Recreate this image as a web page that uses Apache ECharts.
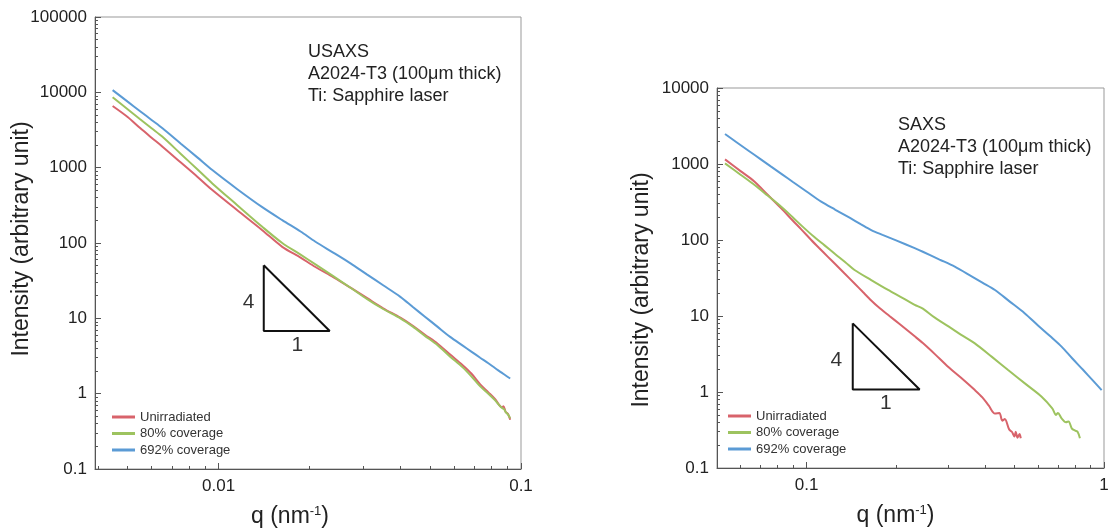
<!DOCTYPE html>
<html>
<head>
<meta charset="utf-8">
<script src="https://cdn.jsdelivr.net/npm/echarts@6/dist/echarts.min.js"></script>
<style>html,body{margin:0;padding:0;background:#fff;}#chart{width:1113px;height:528px;}</style>
</head>
<body>
<div id="chart"></div>
<script>
// ---------- DATA ----------
const seriesNames = ['Unirradiated', '80% coverage', '692% coverage'];
const seriesColors = ['#d8636b', '#9dc35f', '#5b9bd5'];

// USAXS (left) : [q, intensity]
const usaxsUnirradiated = [[0.00446,6580],[0.0050,4700],[0.0055,3350],[0.0060,2500],[0.00652,1900],[0.0075,1170],[0.0085,760],[0.00953,504],[0.0115,274],[0.01394,148],[0.01623,89],[0.01866,64],[0.0209,48],[0.024,35],[0.0273,25.5],[0.031,18.5],[0.035,13.6],[0.0399,10.2],[0.044,7.9],[0.048,6.1],[0.053,4.6],[0.0583,3.3],[0.064,2.4],[0.0685,1.85],[0.0733,1.33],[0.078,1.04],[0.082,0.85],[0.0865,0.66],[0.0875,0.68],[0.089,0.57],[0.0905,0.54],[0.0921,0.45]];
const usaxs80 = [[0.00446,8600],[0.0050,5960],[0.0055,4400],[0.0060,3340],[0.00652,2570],[0.0075,1520],[0.0085,952],[0.00953,618],[0.0115,320],[0.01394,164],[0.01623,100],[0.01866,70],[0.0209,52],[0.024,36],[0.0273,25.5],[0.031,18],[0.035,13.3],[0.0399,10],[0.044,7.7],[0.048,5.9],[0.053,4.4],[0.0583,3.1],[0.064,2.25],[0.0685,1.7],[0.0733,1.25],[0.078,1.0],[0.082,0.82],[0.086,0.66],[0.088,0.62],[0.089,0.57],[0.0905,0.53],[0.0921,0.47]];
const usaxs692 = [[0.00446,10700],[0.0050,7520],[0.0055,5620],[0.0060,4300],[0.00652,3330],[0.0075,2080],[0.0085,1370],[0.00953,929],[0.0115,522],[0.01394,299],[0.01623,201],[0.01866,142],[0.0209,104],[0.024,74],[0.0273,53.6],[0.031,38],[0.035,27.5],[0.0399,19.3],[0.044,14.0],[0.048,10.6],[0.053,7.7],[0.0583,5.67],[0.064,4.37],[0.0685,3.62],[0.0733,3.0],[0.078,2.53],[0.082,2.19],[0.086,1.92],[0.089,1.74],[0.0921,1.59]];

// SAXS (right) : [q, intensity]
const saxsUnirradiated = [[0.0532,1150],[0.060,806],[0.0669,585],[0.074,394],[0.0822,261],[0.090,179],[0.096,138],[0.1037,100],[0.110,79],[0.118,60],[0.126,46.5],[0.134,36.5],[0.145,26.8],[0.155,20.5],[0.165,16],[0.174,13.2],[0.19,10],[0.205,7.9],[0.231,5.4],[0.246,4.4],[0.27,3.15],[0.299,2.15],[0.33,1.55],[0.368,1.06],[0.39,0.85],[0.41,0.66],[0.43,0.52],[0.445,0.53],[0.455,0.42],[0.464,0.44],[0.48,0.32],[0.49,0.30],[0.50,0.26],[0.505,0.30],[0.512,0.25],[0.52,0.28],[0.525,0.246]];
const saxs80 = [[0.0532,1020],[0.060,723],[0.0669,530],[0.074,384],[0.0822,274],[0.090,198],[0.097,150],[0.106,110],[0.115,85],[0.125,65],[0.135,51],[0.145,40.3],[0.165,29.7],[0.188,22],[0.21,17.3],[0.231,14],[0.246,12.5],[0.27,9.5],[0.30,7.3],[0.33,5.7],[0.368,4.37],[0.42,2.9],[0.476,1.95],[0.55,1.24],[0.617,0.867],[0.67,0.61],[0.69,0.50],[0.70,0.53],[0.72,0.45],[0.745,0.40],[0.76,0.41],[0.78,0.33],[0.80,0.31],[0.815,0.30],[0.83,0.246]];
const saxs692 = [[0.0532,2480],[0.058,1950],[0.064,1485],[0.070,1160],[0.076,923],[0.083,725],[0.090,580],[0.100,435],[0.112,319],[0.125,250],[0.140,195],[0.152,162],[0.165,135],[0.18,117],[0.20,99],[0.231,78],[0.246,70],[0.28,55.3],[0.315,44.6],[0.36,33],[0.39,27.5],[0.43,22],[0.48,15.7],[0.542,10.8],[0.60,7.5],[0.66,5.4],[0.72,3.95],[0.78,2.8],[0.85,1.96],[0.92,1.4],[0.982,1.06]];

// slope triangles (q, intensity) and their labels
const usaxsTriangle = [[0.0141,50.6],[0.0141,6.8],[0.0233,6.8],[0.0141,50.6]];
const usaxsTriangleLabels = [['4',0.01256,16.6],['1',0.0182,4.4]];
const saxsTriangle = [[0.143,8.0],[0.143,1.08],[0.24,1.08],[0.143,8.0]];
const saxsTriangleLabels = [['4',0.126,2.64],['1',0.1846,0.716]];

// axis ranges and ticks
const usaxsXRange = [0.0039, 0.1];
const usaxsYRange = [0.1, 100000];
const saxsXRange = [0.05, 1];
const saxsYRange = [0.1, 10000];
const usaxsXMajor = [0.01, 0.1];
const usaxsXMinor = [0.004,0.005,0.006,0.007,0.008,0.009,0.02,0.03,0.04,0.05,0.06,0.07,0.08,0.09];
const usaxsYMajor = [0.1, 1, 10, 100, 1000, 10000, 100000];
const saxsXMajor = [0.1, 1];
const saxsXMinor = [0.05,0.06,0.07,0.08,0.09,0.2,0.3,0.4,0.5,0.6,0.7,0.8,0.9];
const saxsYMajor = [0.1, 1, 10, 100, 1000, 10000];
const minorDecade = [2,3,4,5,6,7,8,9];

const usaxsText = 'USAXS\nA2024-T3 (100μm thick)\nTi: Sapphire laser';
const saxsText = 'SAXS\nA2024-T3 (100μm thick)\nTi: Sapphire laser';
const yAxisTitle = 'Intensity (arbitrary unit)';
const xAxisTitle = 'q (nm{sup|-1})';

// ---------- BUILD ----------
const FONT = '"Liberation Sans", Arial, Helvetica, sans-serif';
function minorFromMajors(majors) {
  const out = [];
  for (let i = 0; i < majors.length - 1; i++) minorDecade.forEach(m => out.push(+(majors[i] * m).toPrecision(6)));
  return out;
}
const fmt = v => String(+v.toPrecision(6));
const axisColor = '#555';

function xAxes(grid, range, majors, minors, nameShift) {
  return [{
    gridIndex: grid, type: 'log', logBase: 10, min: range[0], max: range[1], position: 'bottom',
    axisLine: { lineStyle: { color: axisColor, width: 1 } },
    axisTick: { inside: true, length: 6, customValues: majors, lineStyle: { color: axisColor } },
    axisLabel: { customValues: majors, formatter: fmt, margin: 9, fontSize: 17, color: '#222', fontFamily: FONT },
    splitLine: { show: false }, minorTick: { show: false },
    name: xAxisTitle, nameLocation: 'middle', nameGap: 36, nameMoveOverlap: false,
    nameTextStyle: { fontSize: 23, color: '#222', fontFamily: FONT, padding: [0, nameShift, 0, 0],
      rich: { sup: { fontSize: 13, verticalAlign: 'top', fontFamily: FONT, color: '#222' } } }
  }, {
    gridIndex: grid, type: 'log', logBase: 10, min: range[0], max: range[1], position: 'bottom',
    axisLine: { show: false },
    axisTick: { inside: true, length: 3, customValues: minors, lineStyle: { color: axisColor } },
    axisLabel: { show: false }, splitLine: { show: false }
  }];
}
function yAxes(grid, range, majors, gap, namePad) {
  return [{
    gridIndex: grid, type: 'log', logBase: 10, min: range[0], max: range[1], position: 'left',
    axisLine: { lineStyle: { color: axisColor, width: 1 } },
    axisTick: { inside: true, length: 6, customValues: majors, lineStyle: { color: axisColor } },
    axisLabel: { customValues: majors, formatter: fmt, margin: 8, fontSize: 17, color: '#222', fontFamily: FONT },
    splitLine: { show: false },
    name: yAxisTitle, nameLocation: 'middle', nameGap: gap, nameMoveOverlap: false,
    nameTextStyle: { fontSize: 23, color: '#222', fontFamily: FONT, padding: namePad }
  }, {
    gridIndex: grid, type: 'log', logBase: 10, min: range[0], max: range[1], position: 'left',
    axisLine: { show: false },
    axisTick: { inside: true, length: 3, customValues: minorFromMajors(majors), lineStyle: { color: axisColor } },
    axisLabel: { show: false }, splitLine: { show: false }
  }];
}

function dataSeries(xi, yi, datasets) {
  return datasets.map((d, i) => ({
    type: 'line', name: seriesNames[i], xAxisIndex: xi, yAxisIndex: yi, data: d,
    showSymbol: false, symbol: 'none', smooth: 0.3, lineStyle: { width: 2, color: seriesColors[i] },
    itemStyle: { color: seriesColors[i] }, z: 3 + i
  }));
}
function triangleSeries(xi, yi, tri, labels) {
  return [{
    type: 'line', xAxisIndex: xi, yAxisIndex: yi, data: tri, symbol: 'none', silent: true,
    lineStyle: { color: '#111', width: 2 }, z: 2
  }, {
    type: 'scatter', xAxisIndex: xi, yAxisIndex: yi, symbolSize: 0, silent: true,
    data: labels.map(l => ({ name: l[0], value: [l[1], l[2]] })),
    itemStyle: { color: '#000' },
    label: { show: true, position: 'inside', formatter: p => p.name, fontSize: 21, color: '#000', fontFamily: FONT }
  }];
}

const legendCommon = {
  orient: 'vertical', data: seriesNames, icon: 'rect', itemWidth: 23, itemHeight: 3, itemGap: 2.5,
  textStyle: { fontSize: 13, color: '#333', fontFamily: FONT, lineHeight: 14 }
};

const option = {
  animation: false,
  backgroundColor: '#fff',
  title: [
    { text: usaxsText, left: 303, top: 36, textStyle: { fontSize: 18, fontWeight: 'normal', lineHeight: 22, color: '#222', fontFamily: FONT } },
    { text: saxsText, left: 893, top: 109, textStyle: { fontSize: 18, fontWeight: 'normal', lineHeight: 22, color: '#222', fontFamily: FONT } }
  ],
  legend: [
    Object.assign({ left: 107, top: 405 }, legendCommon),
    Object.assign({ left: 723, top: 404 }, legendCommon)
  ],
  grid: [
    { left: 95, top: 17, width: 426, height: 452, show: true, borderColor: '#999', borderWidth: 1, backgroundColor: 'transparent', containLabel: false, outerBoundsMode: 'none' },
    { left: 717, top: 88, width: 387, height: 380, show: true, borderColor: '#999', borderWidth: 1, backgroundColor: 'transparent', containLabel: false, outerBoundsMode: 'none' }
  ],
  xAxis: [].concat(xAxes(0, usaxsXRange, usaxsXMajor, usaxsXMinor, 36), xAxes(1, saxsXRange, saxsXMajor, saxsXMinor, 30)),
  yAxis: [].concat(yAxes(0, usaxsYRange, usaxsYMajor, 62, [0, 0, 0, 8]), yAxes(1, saxsYRange, saxsYMajor, 64, [0, 24, 0, 0])),
  series: [].concat(
    triangleSeries(0, 0, usaxsTriangle, usaxsTriangleLabels),
    dataSeries(0, 0, [usaxsUnirradiated, usaxs80, usaxs692]),
    triangleSeries(2, 2, saxsTriangle, saxsTriangleLabels),
    dataSeries(2, 2, [saxsUnirradiated, saxs80, saxs692])
  )
};

const chart = echarts.init(document.getElementById('chart'), null, { renderer: 'canvas', width: 1113, height: 528 });
chart.setOption(option);
</script>
</body>
</html>
